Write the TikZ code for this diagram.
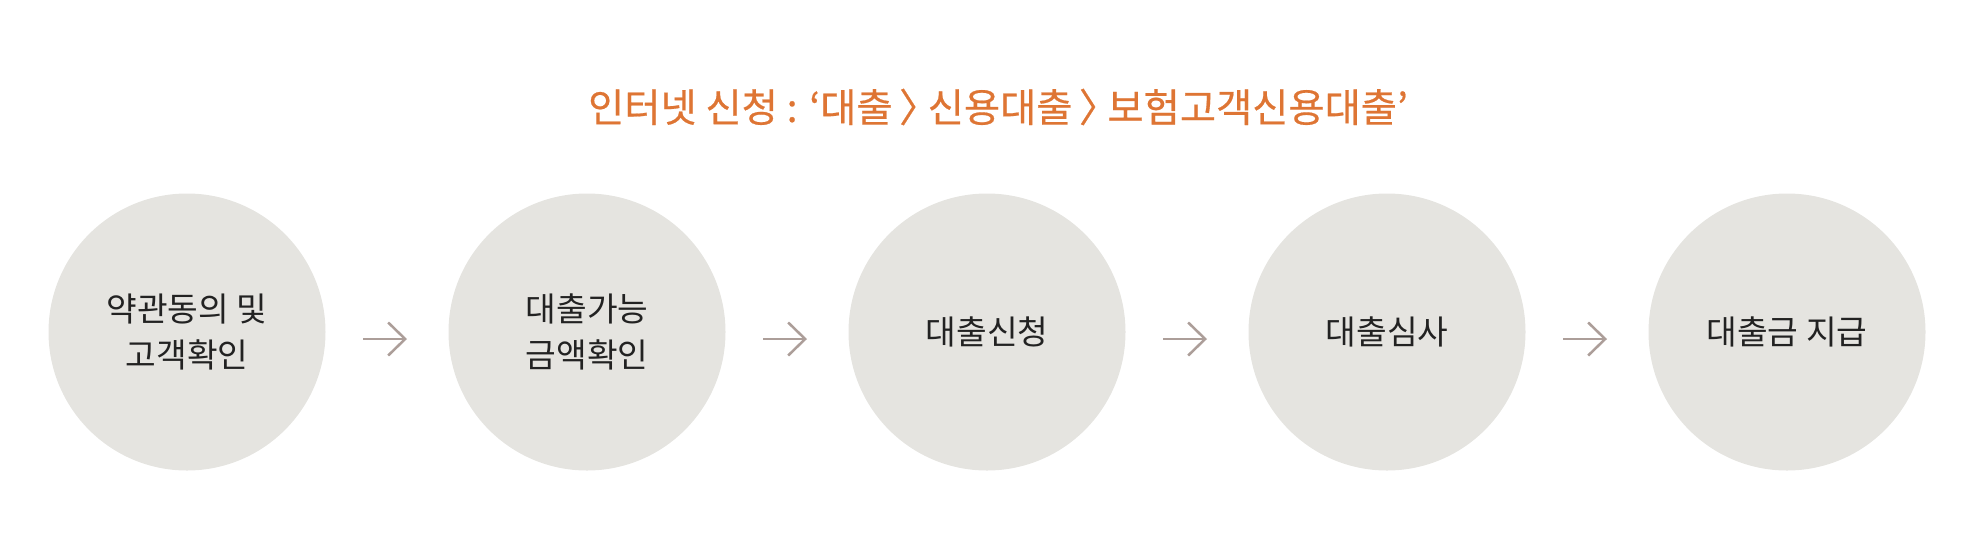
\documentclass[tikz,border=0pt]{standalone}
\usepackage{fontspec}
\newfontfamily\krfont{Noto Sans CJK KR}
\newfontfamily\krtitlefont[FakeBold=0.5]{Noto Sans CJK KR}
\usetikzlibrary{arrows.meta}

\definecolor{stepfill}{RGB}{229,228,224}
\definecolor{steptext}{RGB}{34,34,34}
\definecolor{titleorange}{RGB}{222,117,52}
\definecolor{flowgray}{RGB}{172,158,153}

\newcommand{\crumbsep}{\,〉\kern-0.5em\ }

\tikzset{every picture/.style={line width=0.75pt}}
\tikzset{
  stepcircle/.style={circle, fill=stepfill, draw=none, minimum size=207.75pt, inner sep=0pt,
    align=center, text=steptext, font=\krfont\fontsize{25}{34.5}\selectfont},
  flowarrow/.style={draw=flowgray, line width=1.9pt, -{Straight Barb[length=12.75pt,width=24.75pt]}},
  titletext/.style={text=titleorange, inner sep=0pt, font=\krtitlefont\fontsize{29.5}{34}\selectfont}
}

\begin{document}
\begin{tikzpicture}[x=0.75pt,y=0.75pt,yscale=-1,xscale=1]
\useasboundingbox (0,0) rectangle (1982,558);

% Title
\node [titletext] (title) at (998,107) {인터넷 신청 : ‘대출\crumbsep 신용대출\crumbsep 보험고객신용대출’};

% Steps
\node [stepcircle] (s1) at (187,332) {약관동의 및\\고객확인};
\node [stepcircle] (s2) at (587,332) {대출가능\\금액확인};
\node [stepcircle] (s3) at (987,332) {대출신청};
\node [stepcircle] (s4) at (1387,332) {대출심사};
\node [stepcircle] (s5) at (1787,332) {대출금 지급};

% Arrows between steps
\coordinate (a1s) at (363,339);
\coordinate (a1e) at (407,339);
\coordinate (a2s) at (763,339);
\coordinate (a2e) at (807,339);
\coordinate (a3s) at (1163,339);
\coordinate (a3e) at (1207,339);
\coordinate (a4s) at (1563,339);
\coordinate (a4e) at (1607,339);
\draw [flowarrow] (a1s) -- (a1e);
\draw [flowarrow] (a2s) -- (a2e);
\draw [flowarrow] (a3s) -- (a3e);
\draw [flowarrow] (a4s) -- (a4e);

\end{tikzpicture}
\end{document}
